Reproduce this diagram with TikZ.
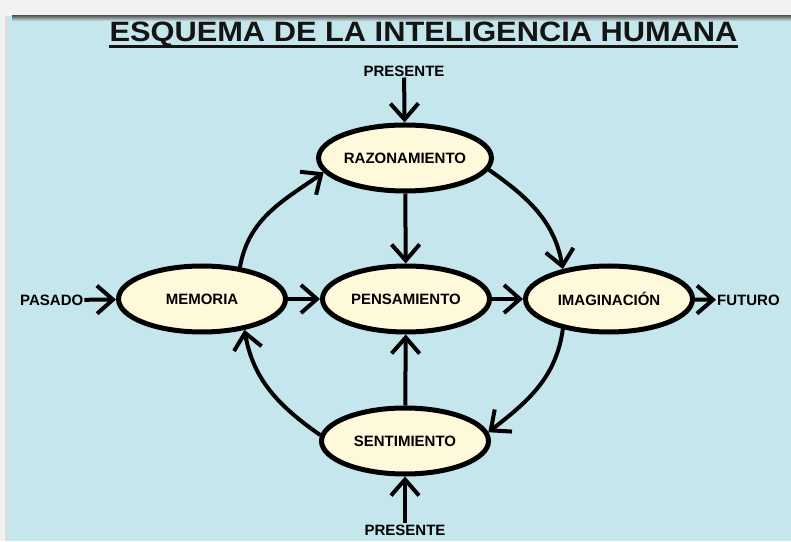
\documentclass[tikz,border=0pt]{standalone}
\usepackage{fontspec}
\setmainfont{Liberation Sans}
\usetikzlibrary{arrows.meta,shapes.geometric}
\definecolor{bgblue}{HTML}{C4E6EC}
\definecolor{cream}{HTML}{FFF9DC}
\definecolor{stripgray}{HTML}{F2F2F2}
\definecolor{edgegray}{HTML}{DEDEDE}
\definecolor{titleink}{HTML}{141414}
\begin{document}
\begin{tikzpicture}[x=1pt,y=1pt,
  oval/.style={ellipse,draw=black,line width=5pt,fill=cream,minimum width=167pt,minimum height=66pt,inner sep=0pt,font=\bfseries\fontsize{15}{18}\selectfont},
  lbl/.style={font=\bfseries\fontsize{15}{18}\selectfont,inner sep=1pt},
  conn/.style={line width=4pt,-{Straight Barb[length=16pt,width=28pt]}}
]
\useasboundingbox (0,0) rectangle (791,541);
% background
\fill[stripgray] (0,0) rectangle (791,541);
\fill[edgegray] (5,0) rectangle (8,525);
\fill[bgblue] (8,0) rectangle (791,525);
\shade[top color=black!60,bottom color=bgblue] (12,520) rectangle (791,525);
% title
\node[text=titleink,inner sep=0pt,anchor=base] (title) at (423.5,499.5) {\scalebox{1.1}[1]{\bfseries\fontsize{28}{34}\selectfont ESQUEMA DE LA INTELIGENCIA HUMANA}};
\coordinate (ul1) at ([yshift=-5pt]title.base west);
\draw[titleink,line width=2.5pt] (ul1) -- (title.base east |- ul1);
% nodes
\node[oval] (raz) at (405,383) {RAZONAMIENTO};
\node[oval] (mem) at (202,242) {MEMORIA};
\node[oval] (pen) at (406,242) {PENSAMIENTO};
\node[oval] (ima) at (609,242) {IMAGINACIÓN};
\node[oval] (sen) at (405,100) {SENTIMIENTO};
\node[lbl] (pt) at (404,470) {PRESENTE};
\node[lbl] (pb) at (405,11) {PRESENTE};
\node[lbl,anchor=west] (pas) at (19,241) {PASADO};
\node[lbl,anchor=west] (fut) at (716,241) {FUTURO};
% straight connectors
\draw[conn] (pt) -- (raz);
\draw[conn] (pb) -- (sen);
\draw[conn] (pas) -- (mem);
\draw[conn] (ima) -- (fut);
\draw[conn] (mem) -- (pen);
\draw[conn] (pen) -- (ima);
\draw[conn] (raz) -- (pen);
\draw[conn] (sen) -- (pen);
% curved connectors
\draw[conn] (mem.40) to[out=80,in=215] (raz.190);
\draw[conn] (raz.352) to[out=-35,in=100] (ima.147);
\draw[conn] (ima.213) to[out=262,in=38] (sen.6);
\draw[conn] (sen.176) to[out=145,in=280] (mem.324);
\end{tikzpicture}
\end{document}
